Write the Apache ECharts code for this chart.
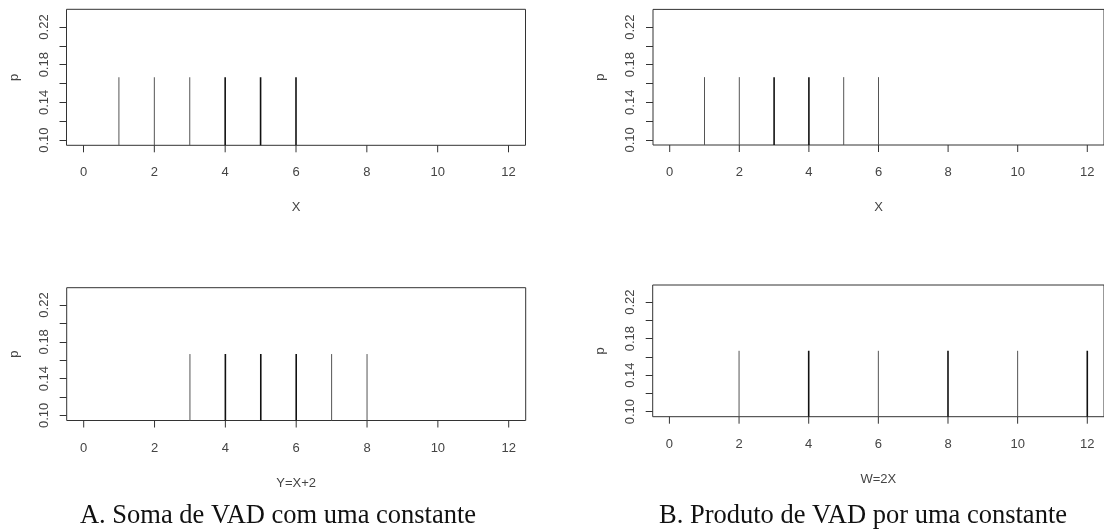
<!DOCTYPE html>
<html>
<head>
<meta charset="utf-8">
<script src="https://cdn.jsdelivr.net/npm/echarts@6/dist/echarts.min.js"></script>
<style>
  html, body { margin: 0; padding: 0; background: #fff; }
  #chart { width: 1104px; height: 532px; }
</style>
</head>
<body>
<div id="chart"></div>
<script>
// X: dado honesto, P(X = x) = 1/6
const xValues = [1, 2, 3, 4, 5, 6];
const xProbs = [0.1667, 0.1667, 0.1667, 0.1667, 0.1667, 0.1667];
// Y = X + 2
const yValues = [3, 4, 5, 6, 7, 8];
const yProbs = [0.1667, 0.1667, 0.1667, 0.1667, 0.1667, 0.1667];
// W = 2X
const wValues = [2, 4, 6, 8, 10, 12];
const wProbs = [0.1667, 0.1667, 0.1667, 0.1667, 0.1667, 0.1667];

const xTicks = [0, 2, 4, 6, 8, 10, 12];
const pTicks = [0.10, 0.12, 0.14, 0.16, 0.18, 0.20, 0.22];
const pLabels = [0.10, 0.14, 0.18, 0.22];
const captions = ['A. Soma de VAD com uma constante', 'B. Produto de VAD por uma constante'];

const X_MIN = -0.48, X_MAX = 12.48;
const P_MIN = 0.0945, P_MAX = 0.2388;

// dark = linhas que saem mais escuras na figura original
const panels = [
  { label: 'X', xs: xValues, ps: xProbs, dark: [4, 5, 6],
    grid: { left: 66.5, top: 9.3, width: 459, height: 136 } },
  { label: 'X', xs: xValues, ps: xProbs, dark: [3, 4],
    grid: { left: 653, top: 9.4, width: 457, height: 135.6 } },
  { label: 'Y=X+2', xs: yValues, ps: yProbs, dark: [4, 5, 6],
    grid: { left: 66.7, top: 287.7, width: 459, height: 132.8 } },
  { label: 'W=2X', xs: wValues, ps: wProbs, dark: [4, 8, 12],
    grid: { left: 652.7, top: 285, width: 457, height: 131.7 } }
];

const labelFont = { fontFamily: 'Liberation Sans', fontSize: 13, color: '#444' };

const grid = [], xAxis = [], yAxis = [], series = [];
panels.forEach((pn, i) => {
  grid.push(Object.assign({
    show: true, borderColor: '#333', borderWidth: 1
  }, pn.grid));

  xAxis.push({
    gridIndex: i, type: 'value', min: X_MIN, max: X_MAX,
    splitLine: { show: false },
    axisLine: { show: false, onZero: false },
    axisTick: { show: false },
    axisLabel: Object.assign({ customValues: xTicks, margin: 21 }, labelFont),
    name: pn.label, nameLocation: 'middle', nameGap: 56,
    nameTextStyle: labelFont
  });

  yAxis.push({
    gridIndex: i, type: 'value', min: P_MIN, max: P_MAX,
    splitLine: { show: false },
    axisLine: { show: false, onZero: false },
    axisTick: { show: true, customValues: pTicks, length: 7, lineStyle: { color: '#333' } },
    axisLabel: Object.assign({
      customValues: pLabels, rotate: 90, margin: 16,
      formatter: v => v.toFixed(2)
    }, labelFont),
    name: 'p', nameLocation: 'middle', nameGap: 46, nameRotate: 90,
    nameTextStyle: labelFont
  });

  // linhas verticais (type = "h" do R)
  series.push({
    type: 'custom', xAxisIndex: i, yAxisIndex: i, clip: true,
    data: pn.xs.map((x, k) => [x, pn.ps[k]]),
    renderItem: (params, api) => {
      const x = api.value(0);
      const top = api.coord([x, api.value(1)]);
      const base = api.coord([x, 0]);
      const heavy = pn.dark.indexOf(x) >= 0;
      return {
        type: 'line',
        shape: { x1: top[0], y1: top[1], x2: base[0], y2: base[1] },
        style: { stroke: heavy ? '#111' : '#555', lineWidth: heavy ? 1.6 : 1 }
      };
    }
  });

  // marcas do eixo x, desenhadas a partir da escala do eixo
  series.push({
    type: 'custom', xAxisIndex: i, yAxisIndex: i, clip: false, silent: true, z: 10,
    data: xTicks.map(t => [t, P_MIN]),
    renderItem: (params, api) => {
      const p = api.coord([api.value(0), api.value(1)]);
      return {
        type: 'line',
        shape: { x1: p[0], y1: p[1], x2: p[0], y2: p[1] + 7 },
        style: { stroke: '#333', lineWidth: 1 }
      };
    }
  });
});

const chart = echarts.init(document.getElementById('chart'));
chart.setOption({
  animation: false,
  grid, xAxis, yAxis, series,
  graphic: [
    { type: 'text', x: 278, y: 516,
      style: { text: captions[0], font: '26.5px "Liberation Serif"', fill: '#111',
               textAlign: 'center', textVerticalAlign: 'middle' } },
    { type: 'text', x: 863, y: 516,
      style: { text: captions[1], font: '26.5px "Liberation Serif"', fill: '#111',
               textAlign: 'center', textVerticalAlign: 'middle' } }
  ]
});
</script>
</body>
</html>
